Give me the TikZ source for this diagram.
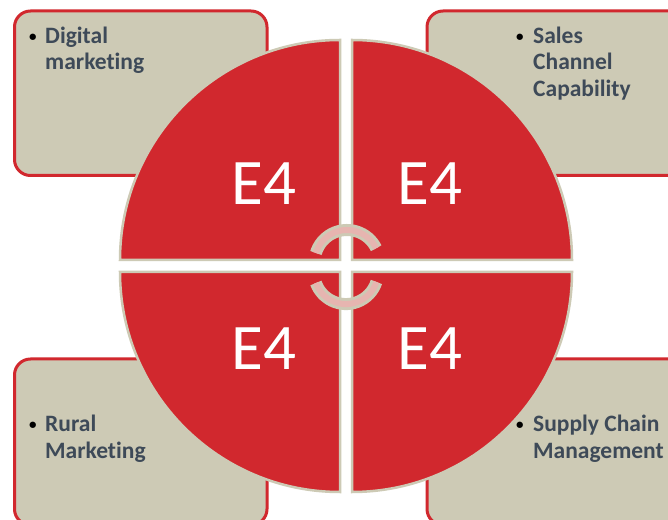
\documentclass[tikz,border=0pt]{standalone}
\usepackage{fontspec}
\setmainfont[Ligatures=NoCommon]{Carlito}
\definecolor{e4red}{HTML}{D1282E}
\definecolor{e4beige}{HTML}{CDCAB5}
\definecolor{e4pink}{HTML}{E6B5B0}
\definecolor{e4ink}{HTML}{3E4A58}
\tikzset{
  infobox/.style={draw=e4red,fill=e4beige,line width=3pt,rounded corners=16pt},
  quadrant/.style={draw=e4beige,fill=e4red,line width=2.5pt,line join=miter},
  bignum/.style={text=white,font=\fontsize{65}{65}\selectfont,inner sep=0pt,anchor=base},
  label/.style={text=e4ink,font=\fontsize{23.5}{26}\selectfont\bfseries,inner sep=0pt,anchor=base west},
  dot/.style={text=black,font=\fontsize{15}{26}\selectfont\bfseries,inner sep=0pt,anchor=base west},
  turnback/.style={draw=e4beige,line width=12pt,line cap=butt},
  turnfront/.style={draw=e4pink,line width=6pt,line cap=butt}
}
\begin{document}
\begin{tikzpicture}[x=1pt,y=1pt]
\useasboundingbox (0,0) rectangle (668,519);
\clip (0,0) rectangle (668,519);
\fill[white] (0,0) rectangle (668,519);
% boxes
\draw[infobox] (14.5,343.5) rectangle (267,508);
\draw[infobox] (427,343.5) rectangle (700,508);
\draw[infobox] (14.5,-6) rectangle (267,160);
\draw[infobox] (427,-6) rectangle (700,160);
% quadrants
\draw[quadrant] (340,259) -- (120,259) arc[start angle=180,end angle=90,radius=220pt] -- cycle;
\draw[quadrant] (352,259) -- (352,479) arc[start angle=90,end angle=0,radius=220pt] -- cycle;
\draw[quadrant] (340,247) -- (340,27) arc[start angle=270,end angle=180,radius=220pt] -- cycle;
\draw[quadrant] (352,247) -- (572,247) arc[start angle=0,end angle=-90,radius=220pt] -- cycle;
% circular arrows
\draw[turnback] (315.9,266) arc[start angle=163,end angle=26,radius=32.5pt];
\draw[turnfront] (315.9,266) arc[start angle=163,end angle=26,radius=32.5pt];
\draw[turnback] (315.9,236) arc[start angle=200,end angle=342,radius=32pt];
\draw[turnfront] (315.9,236) arc[start angle=200,end angle=342,radius=32pt];
% numbers
\node[bignum] (tl) at (264,314) {E4};
\node[bignum] (tr) at (430,314) {E4};
\node[bignum] (bl) at (264,149) {E4};
\node[bignum] (br) at (430,149) {E4};
% labels
\node[dot] (d1) at (29,477) {•};
\node[label] (t1a) at (45,475) {Digital};
\node[label] (t1b) at (45,449) {marketing};
\node[dot] (d2) at (516,477) {•};
\node[label] (t2a) at (533,475) {Sales};
\node[label] (t2b) at (533,449) {Channel};
\node[label] (t2c) at (533,422) {Capability};
\node[dot] (d3) at (29,90) {•};
\node[label] (t3a) at (45,88) {Rural};
\node[label] (t3b) at (45,61) {Marketing};
\node[dot] (d4) at (516,90) {•};
\node[label] (t4a) at (533,88) {Supply Chain};
\node[label] (t4b) at (533,61) {Management};
\end{tikzpicture}
\end{document}
